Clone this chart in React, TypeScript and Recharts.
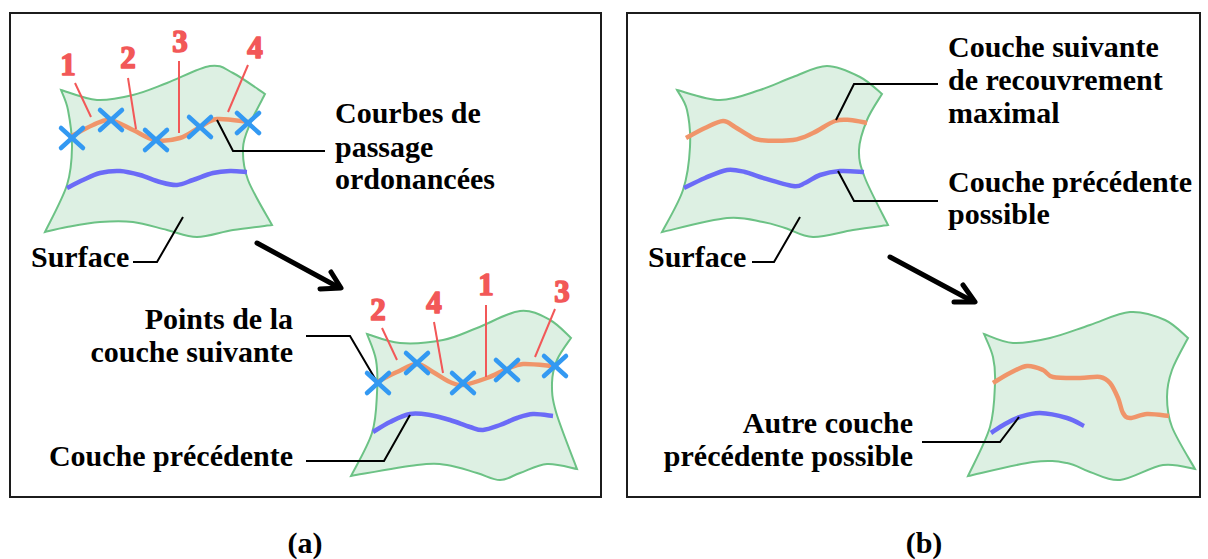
import React from 'react';
import { ComposedChart, Scatter, XAxis, YAxis, ReferenceArea } from 'recharts';

type P = { x: number; y: number; k?: number; t?: string };

// ---------- panel frames ----------
const frames = [
  { x1: 10, x2: 601, y1: 13, y2: 497 },
  { x1: 627, x2: 1200, y1: 13, y2: 497 },
];

// ---------- surfaces (k = corner) ----------
const surfA1: P[] = [
  { x: 61, y: 90, k: 1 }, { x: 97, y: 100 }, { x: 133, y: 95 }, { x: 167, y: 83 }, { x: 210, y: 66 }, { x: 233, y: 73 }, { x: 265, y: 94, k: 1 },
  { x: 250, y: 124 }, { x: 243, y: 148 }, { x: 248, y: 180 }, { x: 272, y: 225, k: 1 },
  { x: 233, y: 230 }, { x: 197, y: 237 }, { x: 167, y: 230 }, { x: 133, y: 222 }, { x: 100, y: 222 }, { x: 67, y: 227 }, { x: 45, y: 232, k: 1 },
  { x: 67, y: 185 }, { x: 72, y: 147 }, { x: 68, y: 110 },
];
const surfA2: P[] = [
  { x: 367, y: 334, k: 1 }, { x: 400, y: 343 }, { x: 443, y: 340 }, { x: 477, y: 328 }, { x: 520, y: 311 }, { x: 550, y: 320 }, { x: 571, y: 338, k: 1 },
  { x: 557, y: 360 }, { x: 552, y: 383 }, { x: 556, y: 412 }, { x: 577, y: 469, k: 1 },
  { x: 547, y: 464 }, { x: 520, y: 473 }, { x: 500, y: 480 }, { x: 477, y: 473 }, { x: 447, y: 465 }, { x: 417, y: 465 }, { x: 351, y: 476, k: 1 },
  { x: 372, y: 433 }, { x: 377, y: 393 }, { x: 376, y: 360 },
];
const surfB1: P[] = [
  { x: 677, y: 90, k: 1 }, { x: 720, y: 100 }, { x: 760, y: 90 }, { x: 793, y: 77 }, { x: 827, y: 66 }, { x: 860, y: 77 }, { x: 882, y: 94, k: 1 },
  { x: 867, y: 120 }, { x: 859, y: 150 }, { x: 865, y: 178 }, { x: 888, y: 225, k: 1 },
  { x: 853, y: 230 }, { x: 813, y: 237 }, { x: 785, y: 228 }, { x: 763, y: 222 }, { x: 727, y: 218 }, { x: 662, y: 232, k: 1 },
  { x: 683, y: 190 }, { x: 690, y: 147 }, { x: 687, y: 110 },
];
const surfB2: P[] = [
  { x: 984, y: 334, k: 1 }, { x: 1013, y: 343 }, { x: 1050, y: 338 }, { x: 1090, y: 325 }, { x: 1130, y: 312 }, { x: 1165, y: 320 }, { x: 1188, y: 338, k: 1 },
  { x: 1172, y: 370 }, { x: 1167, y: 397 }, { x: 1172, y: 427 }, { x: 1195, y: 469, k: 1 },
  { x: 1163, y: 465 }, { x: 1120, y: 480 }, { x: 1090, y: 472 }, { x: 1067, y: 463 }, { x: 1033, y: 462 }, { x: 968, y: 476, k: 1 },
  { x: 990, y: 427 }, { x: 995, y: 383 }, { x: 993, y: 357 },
];

// ---------- coloured curves ----------
const orangeA1: P[] = [
  { x: 70, y: 137 }, { x: 93, y: 125 }, { x: 110, y: 120 }, { x: 133, y: 130 }, { x: 155, y: 140 },
  { x: 180, y: 138 }, { x: 200, y: 127 }, { x: 217, y: 119 }, { x: 248, y: 122 },
];
const blueA1: P[] = [
  { x: 67, y: 188 }, { x: 83, y: 180 }, { x: 100, y: 173 }, { x: 120, y: 171 }, { x: 140, y: 175 }, { x: 160, y: 182 },
  { x: 177, y: 185 }, { x: 193, y: 180 }, { x: 213, y: 173 }, { x: 230, y: 171 }, { x: 247, y: 172 },
];
const orangeA2: P[] = [
  { x: 377, y: 382 }, { x: 397, y: 372 }, { x: 417, y: 364 }, { x: 433, y: 372 }, { x: 450, y: 382 },
  { x: 463, y: 385 }, { x: 487, y: 378 }, { x: 507, y: 369 }, { x: 523, y: 364 }, { x: 553, y: 366 },
];
const blueA2: P[] = [
  { x: 373, y: 432 }, { x: 390, y: 422 }, { x: 410, y: 414 }, { x: 430, y: 415 }, { x: 450, y: 420 }, { x: 470, y: 427 },
  { x: 483, y: 430 }, { x: 500, y: 425 }, { x: 517, y: 418 }, { x: 533, y: 414 }, { x: 553, y: 416 },
];
const orangeB1: P[] = [
  { x: 686, y: 138 }, { x: 705, y: 128 }, { x: 723, y: 121 }, { x: 735, y: 127 }, { x: 748, y: 135 }, { x: 760, y: 140 },
  { x: 793, y: 140 }, { x: 813, y: 133 }, { x: 835, y: 121 }, { x: 850, y: 120 }, { x: 867, y: 123 },
];
const blueB1: P[] = [
  { x: 684, y: 188 }, { x: 705, y: 178 }, { x: 727, y: 170 }, { x: 745, y: 172 }, { x: 760, y: 177 },
  { x: 793, y: 186 }, { x: 805, y: 183 }, { x: 820, y: 175 }, { x: 840, y: 171 }, { x: 864, y: 172 },
];
const orangeB2: P[] = [
  { x: 993, y: 383 }, { x: 1010, y: 373 }, { x: 1027, y: 366 }, { x: 1043, y: 370 }, { x: 1053, y: 377 }, { x: 1080, y: 378 },
  { x: 1100, y: 377 }, { x: 1110, y: 383 }, { x: 1118, y: 398 }, { x: 1123, y: 413 }, { x: 1130, y: 418 }, { x: 1147, y: 414 }, { x: 1169, y: 416 },
];
const blueB2: P[] = [
  { x: 991, y: 433 }, { x: 1005, y: 424 }, { x: 1020, y: 417 }, { x: 1040, y: 413 }, { x: 1067, y: 418 }, { x: 1084, y: 426 },
];

// ---------- crosses ----------
const crossA1: P[] = [{ x: 72, y: 138 }, { x: 111, y: 120 }, { x: 156, y: 140 }, { x: 200, y: 127 }, { x: 248, y: 123 }];
const crossA2: P[] = [{ x: 378, y: 383 }, { x: 417, y: 363 }, { x: 463, y: 383 }, { x: 507, y: 370 }, { x: 555, y: 366 }];

// ---------- red numbers & their lines ----------
const numbersA1: P[] = [{ x: 68, y: 75, t: '1' }, { x: 128, y: 68, t: '2' }, { x: 180, y: 52, t: '3' }, { x: 255, y: 58, t: '4' }];
const numbersA2: P[] = [{ x: 378, y: 320, t: '2' }, { x: 434, y: 313, t: '4' }, { x: 486, y: 295, t: '1' }, { x: 562, y: 302, t: '3' }];
const redLines: P[][] = [
  [{ x: 75, y: 83 }, { x: 91, y: 117 }],
  [{ x: 128, y: 78 }, { x: 136, y: 129 }],
  [{ x: 179, y: 61 }, { x: 179, y: 133 }],
  [{ x: 248, y: 65 }, { x: 228, y: 112 }],
  [{ x: 382, y: 328 }, { x: 397, y: 360 }],
  [{ x: 434, y: 322 }, { x: 443, y: 373 }],
  [{ x: 486, y: 305 }, { x: 486, y: 377 }],
  [{ x: 555, y: 309 }, { x: 535, y: 357 }],
];

// ---------- black leader lines ----------
const leaders: P[][] = [
  [{ x: 217, y: 120 }, { x: 233, y: 151 }, { x: 325, y: 151 }],
  [{ x: 133, y: 262 }, { x: 157, y: 262 }, { x: 183, y: 217 }],
  [{ x: 306, y: 336 }, { x: 350, y: 336 }, { x: 377, y: 382 }],
  [{ x: 306, y: 461 }, { x: 384, y: 461 }, { x: 410, y: 415 }],
  [{ x: 836, y: 120 }, { x: 854, y: 84 }, { x: 938, y: 84 }],
  [{ x: 838, y: 171 }, { x: 854, y: 201 }, { x: 938, y: 201 }],
  [{ x: 752, y: 262 }, { x: 774, y: 262 }, { x: 800, y: 217 }],
  [{ x: 922, y: 442 }, { x: 1000, y: 442 }, { x: 1019, y: 417 }],
];

// ---------- arrows ----------
const arrows: P[][] = [
  [{ x: 257, y: 243 }, { x: 338, y: 287 }],
  [{ x: 331, y: 272 }, { x: 341, y: 288 }, { x: 320, y: 289 }],
  [{ x: 890, y: 257 }, { x: 972, y: 301 }],
  [{ x: 963, y: 285 }, { x: 975, y: 302 }, { x: 954, y: 302 }],
];

// ---------- texts ----------
const labelsStart: P[] = [
  { x: 335, y: 123, t: 'Courbes de' },
  { x: 335, y: 157, t: 'passage' },
  { x: 335, y: 189, t: 'ordonancées' },
  { x: 31, y: 267, t: 'Surface' },
  { x: 948, y: 57, t: 'Couche suivante' },
  { x: 948, y: 90, t: 'de recouvrement' },
  { x: 948, y: 123, t: 'maximal' },
  { x: 948, y: 192, t: 'Couche précédente' },
  { x: 948, y: 224, t: 'possible' },
  { x: 648, y: 267, t: 'Surface' },
];
const labelsEnd: P[] = [
  { x: 293, y: 329, t: 'Points de la' },
  { x: 293, y: 362, t: 'couche suivante' },
  { x: 293, y: 466, t: 'Couche précédente' },
  { x: 913, y: 433, t: 'Autre couche' },
  { x: 913, y: 466, t: 'précédente possible' },
];
const captions: P[] = [
  { x: 305, y: 553, t: '(a)' },
  { x: 924, y: 553, t: '(b)' },
];

// ---------- styles ----------
const GREEN = '#6cc285';
const GREEN_FILL = '#ddf0e3';
const ORANGE = '#f0956a';
const PURPLE = '#6b6bf7';
const XBLUE = '#3399f2';
const RED = '#f25858';
const FONT = "'Liberation Serif', 'DejaVu Serif', serif";

type XY = { x: number; y: number };

function catmull(pts: XY[]): string {
  let d = '';
  for (let i = 0; i < pts.length - 1; i++) {
    const p0 = pts[i - 1] || pts[i];
    const p1 = pts[i];
    const p2 = pts[i + 1];
    const p3 = pts[i + 2] || p2;
    const c1x = p1.x + (p2.x - p0.x) / 6;
    const c1y = p1.y + (p2.y - p0.y) / 6;
    const c2x = p2.x - (p3.x - p1.x) / 6;
    const c2y = p2.y - (p3.y - p1.y) / 6;
    d += ` C${c1x},${c1y} ${c2x},${c2y} ${p2.x},${p2.y}`;
  }
  return d;
}

function smoothPath(pts: XY[]): string {
  if (!pts || !pts.length) return '';
  return `M${pts[0].x},${pts[0].y}` + catmull(pts);
}

function polyPath(pts: XY[]): string {
  if (!pts || !pts.length) return '';
  return pts.map((p, i) => `${i ? 'L' : 'M'}${p.x},${p.y}`).join(' ');
}

function surfacePath(pts: XY[], src: P[]): string {
  if (!pts || !pts.length) return '';
  const corners = src.map((p, i) => (p.k ? i : -1)).filter((i) => i >= 0);
  let d = `M${pts[corners[0]].x},${pts[corners[0]].y}`;
  for (let j = 0; j < corners.length; j++) {
    const a = corners[j];
    const b = corners[(j + 1) % corners.length];
    const edge: XY[] = [pts[a]];
    let i = a;
    while (i !== b) {
      i = (i + 1) % pts.length;
      edge.push(pts[i]);
    }
    d += catmull(edge);
  }
  return d + ' Z';
}

const noDot = () => <g />;

const crossShape = (props: any) => {
  const { cx, cy } = props;
  const dx = 11;
  const dy = 10;
  return (
    <g stroke={XBLUE} strokeWidth={4.5} strokeLinecap="round">
      <line x1={cx - dx} y1={cy - dy} x2={cx + dx} y2={cy + dy} />
      <line x1={cx - dx} y1={cy + dy} x2={cx + dx} y2={cy - dy} />
    </g>
  );
};

const textShape = (anchor: string, color: string, size: number, thick = 0) => (props: any) => (
  <text
    x={props.cx}
    y={props.cy}
    textAnchor={anchor}
    fill={color}
    stroke={thick ? color : 'none'}
    strokeWidth={thick}
    strokeLinejoin="round"
    fontSize={size}
    fontWeight="bold"
    fontFamily={FONT}
  >
    {props.payload.t}
  </text>
);

export default function App() {
  const surfaces = [surfA1, surfA2, surfB1, surfB2];
  const curves: [P[], string][] = [
    [orangeA1, ORANGE], [blueA1, PURPLE], [orangeA2, ORANGE], [blueA2, PURPLE],
    [orangeB1, ORANGE], [blueB1, PURPLE], [orangeB2, ORANGE], [blueB2, PURPLE],
  ];
  return (
    <div style={{ position: 'absolute', left: 0, top: 0, width: 1208, height: 559, background: '#fff' }}>
      <ComposedChart width={1208} height={559} margin={{ top: 0, right: 0, bottom: 0, left: 0 }}>
        <XAxis type="number" dataKey="x" domain={[0, 1208]} allowDataOverflow hide />
        <YAxis type="number" dataKey="y" domain={[0, 559]} allowDataOverflow reversed hide />
        {frames.map((f, i) => (
          <ReferenceArea
            key={'f' + i}
            x1={f.x1}
            x2={f.x2}
            y1={f.y1}
            y2={f.y2}
            fill="none"
            fillOpacity={0}
            stroke="#1c1c1c"
            strokeWidth={2}
            strokeOpacity={1}
            ifOverflow="visible"
          />
        ))}
        {surfaces.map((s, i) => (
          <Scatter
            key={'s' + i}
            data={s}
            isAnimationActive={false}
            shape={noDot}
            line={(lp: any) => (
              <path d={surfacePath(lp.points, s)} fill={GREEN_FILL} stroke={GREEN} strokeWidth={2} strokeLinejoin="miter" />
            )}
          />
        ))}
        {curves.map(([c, col], i) => (
          <Scatter
            key={'c' + i}
            data={c}
            isAnimationActive={false}
            shape={noDot}
            line={(lp: any) => (
              <path d={smoothPath(lp.points)} fill="none" stroke={col} strokeWidth={4.5} strokeLinecap="butt" />
            )}
          />
        ))}
        {redLines.map((l, i) => (
          <Scatter
            key={'r' + i}
            data={l}
            isAnimationActive={false}
            shape={noDot}
            line={(lp: any) => <path d={polyPath(lp.points)} fill="none" stroke={RED} strokeWidth={2} />}
          />
        ))}
        {leaders.map((l, i) => (
          <Scatter
            key={'l' + i}
            data={l}
            isAnimationActive={false}
            shape={noDot}
            line={(lp: any) => <path d={polyPath(lp.points)} fill="none" stroke="#000" strokeWidth={2} />}
          />
        ))}
        {arrows.map((l, i) => (
          <Scatter
            key={'a' + i}
            data={l}
            isAnimationActive={false}
            shape={noDot}
            line={(lp: any) => (
              <path d={polyPath(lp.points)} fill="none" stroke="#000" strokeWidth={5} strokeLinecap="round" strokeLinejoin="round" />
            )}
          />
        ))}
        <Scatter data={crossA1} isAnimationActive={false} shape={crossShape} />
        <Scatter data={crossA2} isAnimationActive={false} shape={crossShape} />
        <Scatter data={numbersA1} isAnimationActive={false} shape={textShape('middle', RED, 31, 1.6)} />
        <Scatter data={numbersA2} isAnimationActive={false} shape={textShape('middle', RED, 31, 1.6)} />
        <Scatter data={labelsStart} isAnimationActive={false} shape={textShape('start', '#000', 30)} />
        <Scatter data={labelsEnd} isAnimationActive={false} shape={textShape('end', '#000', 30)} />
        <Scatter data={captions} isAnimationActive={false} shape={textShape('middle', '#000', 30)} />
      </ComposedChart>
    </div>
  );
}
